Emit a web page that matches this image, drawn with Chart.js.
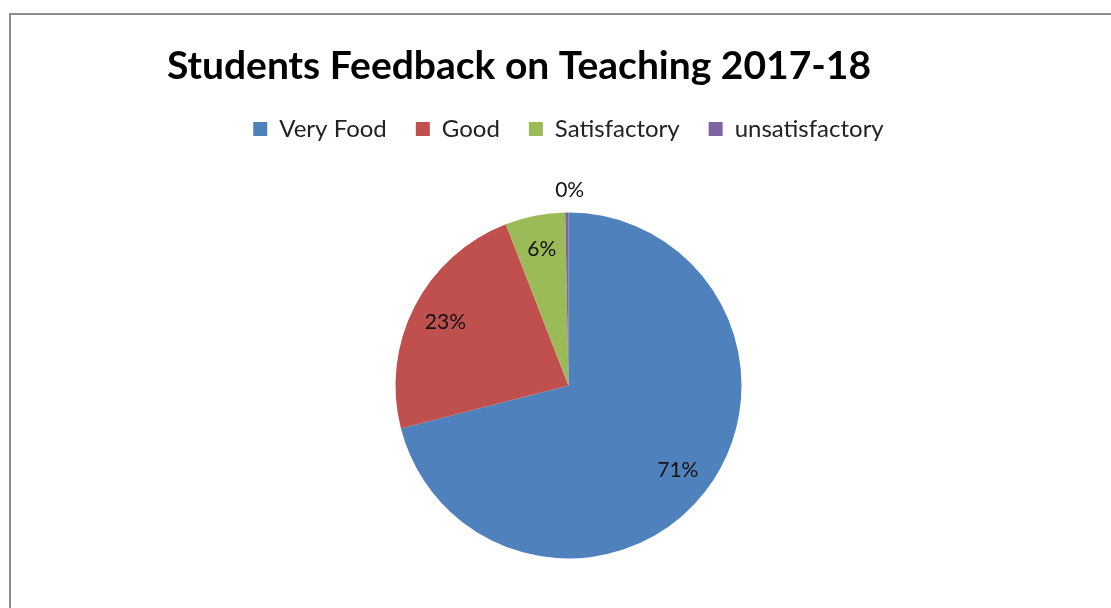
<!DOCTYPE html>
<html>
<head>
<meta charset="utf-8">
<script src="https://cdn.jsdelivr.net/npm/chart.js@4"></script>
<style>
  html, body { margin: 0; padding: 0; background: #fff; overflow: hidden; }
  #frame { position: absolute; left: 9px; top: 13px; width: 1300px; height: 800px; border: 2px solid #8c8c8c; box-sizing: border-box; }
  #wrap { position: absolute; left: 0; top: 0; width: 1111px; height: 608px; overflow: hidden; }
</style>
</head>
<body>
<div id="frame"></div>
<div id="wrap"><canvas id="c" width="1111" height="631"></canvas></div>
<script>
const titleText = 'Students Feedback on Teaching 2017-18';
const categories = ['Very Food', 'Good', 'Satisfactory', 'unsatisfactory'];
const values = [71.0, 23.1, 5.6, 0.3];
const colors = ['#4F81BD', '#C0504D', '#9BBB59', '#8064A2'];

const labelPlugin = {
  id: 'customLabels',
  afterDraw(chart) {
    const ctx = chart.ctx;
    ctx.save();
    ctx.fillStyle = '#000';
    ctx.font = 'bold 39px Lato';
    ctx.textAlign = 'center';
    ctx.textBaseline = 'middle';
    ctx.fillText(titleText, 519, 66);
    const meta = chart.getDatasetMeta(0);
    const total = values.reduce((a, b) => a + b, 0);
    ctx.font = '21px Lato';
    ctx.fillStyle = '#111';
    meta.data.forEach((arc, i) => {
      const p = arc.getProps(['x', 'y', 'startAngle', 'endAngle', 'outerRadius'], true);
      const mid = (p.startAngle + p.endAngle) / 2;
      const pct = Math.round(values[i] / total * 100);
      const r = pct < 2 ? p.outerRadius + 22 : p.outerRadius * 0.8;
      const x = p.x + Math.cos(mid) * r;
      const y = p.y + Math.sin(mid) * r;
      ctx.fillText(pct + '%', x + (pct < 2 ? 3 : 0), y);
    });
    ctx.restore();
  }
};

new Chart(document.getElementById('c'), {
  type: 'pie',
  data: {
    labels: categories,
    datasets: [{
      data: values,
      backgroundColor: colors,
      borderWidth: 0,
      radius: 173
    }]
  },
  options: {
    responsive: false,
    animation: false,
    layout: { padding: { top: 88, left: 26, right: 0, bottom: 11 } },
    plugins: {
      title: { display: false },
      tooltip: { enabled: false },
      legend: {
        position: 'top',
        labels: {
          boxWidth: 14,
          boxHeight: 14,
          padding: 29,
          color: '#222',
          font: { family: 'Lato', size: 24 }
        }
      }
    }
  },
  plugins: [labelPlugin]
});
</script>
</body>
</html>
